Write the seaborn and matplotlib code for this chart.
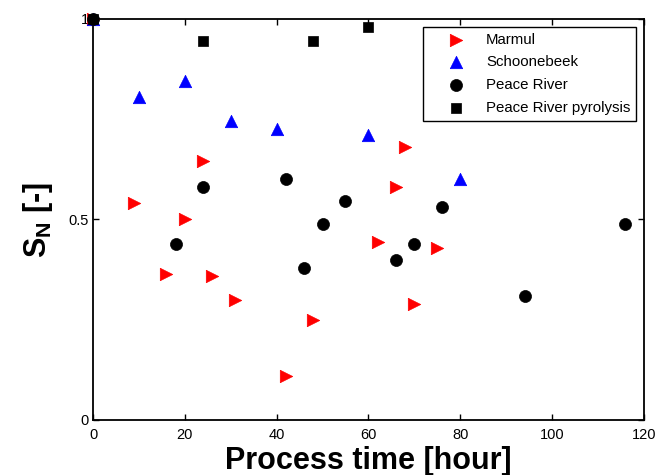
import matplotlib
matplotlib.use("Agg")
import matplotlib.pyplot as plt
import seaborn as sns
import pandas as pd

# ---- data ----
marmul_t = [0, 9, 16, 20, 24, 26, 31, 42, 48, 62, 66, 68, 70, 75]
marmul_s = [1.0, 0.54, 0.365, 0.50, 0.645, 0.36, 0.30, 0.11, 0.25, 0.445, 0.58, 0.68, 0.29, 0.43]

schoon_t = [0, 10, 20, 30, 40, 60, 80]
schoon_s = [1.0, 0.805, 0.845, 0.745, 0.725, 0.71, 0.60]

peace_t = [0, 18, 24, 42, 46, 50, 55, 66, 70, 76, 94, 116]
peace_s = [1.0, 0.44, 0.58, 0.60, 0.38, 0.49, 0.545, 0.40, 0.44, 0.53, 0.31, 0.49]

pyro_t = [0, 24, 48, 60]
pyro_s = [1.0, 0.945, 0.945, 0.98]

series_names = ["Marmul", "Schoonebeek", "Peace River", "Peace River pyrolysis"]
x_ticks = [0, 20, 40, 60, 80, 100, 120]
y_ticks = [0, 0.5, 1]
y_tick_labels = ["0", "0.5", "1"]

frames = []
for name, t, s in zip(series_names, [marmul_t, schoon_t, peace_t, pyro_t],
                      [marmul_s, schoon_s, peace_s, pyro_s]):
    frames.append(pd.DataFrame({"time": t, "SN": s, "series": name}))
df = pd.concat(frames, ignore_index=True)

styles = {
    "Marmul": dict(color="#ff0000", marker=">", s=80),
    "Schoonebeek": dict(color="#0000ff", marker="^", s=80),
    "Peace River": dict(color="#000000", marker="o", s=75),
    "Peace River pyrolysis": dict(color="#000000", marker="s", s=60),
}

sns.set_theme(style="white")
plt.rcParams["font.family"] = ["Liberation Sans", "DejaVu Sans"]
plt.rcParams["mathtext.fontset"] = "custom"
plt.rcParams["mathtext.bf"] = "Liberation Sans:bold"
plt.rcParams["mathtext.rm"] = "Liberation Sans:bold"
plt.rcParams["mathtext.default"] = "bf"
for k in ["text.color", "axes.labelcolor", "xtick.color", "ytick.color", "axes.edgecolor"]:
    plt.rcParams[k] = "black"

fig = plt.figure(figsize=(6.57, 4.75), dpi=100)
ax = fig.add_axes([0.1416, 0.1158, 0.8384, 0.8442])

for name in series_names:
    st = styles[name]
    sub = df[df["series"] == name]
    sns.scatterplot(data=sub, x="time", y="SN", ax=ax, color=st["color"],
                    marker=st["marker"], s=st["s"], edgecolor=st["color"],
                    linewidth=0.5, label=name, clip_on=False, zorder=3)

ax.set_xlim(0, 120)
ax.set_ylim(0, 1)
ax.set_xticks(x_ticks)
ax.set_xticklabels([str(v) for v in x_ticks])
ax.set_yticks(y_ticks)
ax.set_yticklabels(y_tick_labels)
ax.tick_params(direction="in", length=4, width=1, colors="black",
               labelsize=10.5, top=True, right=True,
               bottom=True, left=True)
ax.tick_params(axis="x", pad=5.5)
ax.tick_params(axis="y", pad=3)
for sp in ax.spines.values():
    sp.set_color("black")
    sp.set_linewidth(1.3)
    sp.set_visible(True)

ax.set_xlabel("Process time [hour]", fontsize=22, fontweight="bold", labelpad=3.5)
ax.set_ylabel(r"S$_N$ [-]", fontsize=22, fontweight="bold", labelpad=10)

leg = ax.legend(loc="upper right", fontsize=10.8, frameon=True, fancybox=False,
                handlelength=3.6, handletextpad=0.2, labelspacing=0.58,
                borderpad=0.4, borderaxespad=0.5)
leg.get_frame().set_edgecolor("black")
leg.get_frame().set_linewidth(1.0)
leg.get_frame().set_alpha(1)

fig.savefig("out.png", dpi=100)
